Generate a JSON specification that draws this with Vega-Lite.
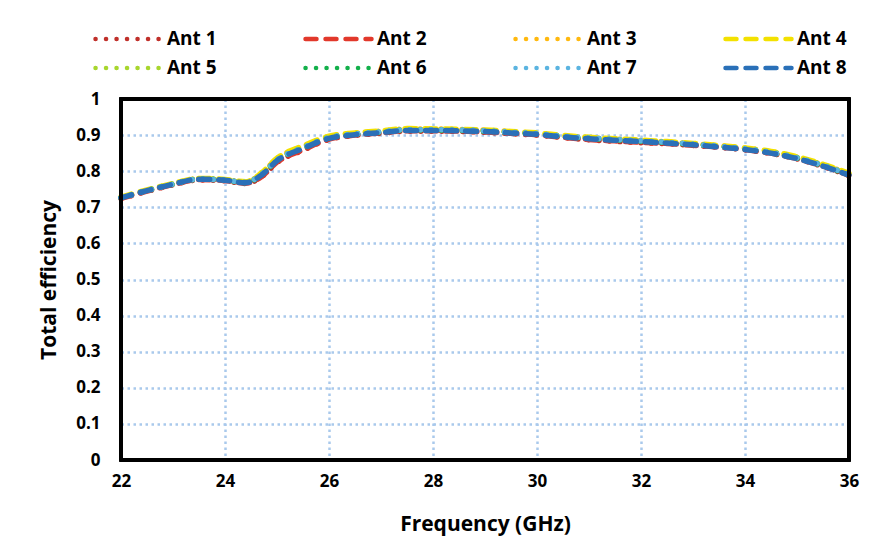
{
  "$schema": "https://vega.github.io/schema/vega-lite/v6.json",
  "autosize": {"type": "none"},
  "padding": {"left": 121, "top": 99, "right": 37, "bottom": 92},
  "width": 728,
  "height": 361,
  "background": "white",
  "config": {
    "font": "Open Sans",
    "view": {"stroke": null},
    "axis": {
      "labelFont": "Open Sans", "labelFontWeight": "bold", "labelFontSize": 17, "labelColor": "#000000",
      "titleFont": "Open Sans", "titleFontWeight": "bold", "titleFontSize": 21, "titleColor": "#000000",
      "domain": false, "ticks": false, "labelFlush": false, "labelOverlap": false,
      "grid": true, "gridColor": "#A9C9EC", "gridDash": [2.5, 3.5], "gridWidth": 2.5, "gridOpacity": 1
    }
  },
  "data": {
    "values": [
      {"f": 22, "Ant 1": 0.724, "Ant 2": 0.725, "Ant 3": 0.727, "Ant 4": 0.728, "Ant 5": 0.727, "Ant 6": 0.726, "Ant 7": 0.726, "Ant 8": 0.726},
      {"f": 22.5, "Ant 1": 0.744, "Ant 2": 0.745, "Ant 3": 0.747, "Ant 4": 0.748, "Ant 5": 0.747, "Ant 6": 0.746, "Ant 7": 0.746, "Ant 8": 0.746},
      {"f": 23, "Ant 1": 0.762, "Ant 2": 0.763, "Ant 3": 0.765, "Ant 4": 0.766, "Ant 5": 0.765, "Ant 6": 0.764, "Ant 7": 0.764, "Ant 8": 0.764},
      {"f": 23.5, "Ant 1": 0.776, "Ant 2": 0.777, "Ant 3": 0.779, "Ant 4": 0.78, "Ant 5": 0.779, "Ant 6": 0.778, "Ant 7": 0.778, "Ant 8": 0.778},
      {"f": 24, "Ant 1": 0.773, "Ant 2": 0.774, "Ant 3": 0.776, "Ant 4": 0.777, "Ant 5": 0.776, "Ant 6": 0.775, "Ant 7": 0.775, "Ant 8": 0.775},
      {"f": 24.4, "Ant 1": 0.766, "Ant 2": 0.767, "Ant 3": 0.77, "Ant 4": 0.771, "Ant 5": 0.769, "Ant 6": 0.768, "Ant 7": 0.769, "Ant 8": 0.768},
      {"f": 24.7, "Ant 1": 0.784, "Ant 2": 0.785, "Ant 3": 0.794, "Ant 4": 0.795, "Ant 5": 0.792, "Ant 6": 0.79, "Ant 7": 0.791, "Ant 8": 0.789},
      {"f": 25, "Ant 1": 0.824, "Ant 2": 0.825, "Ant 3": 0.835, "Ant 4": 0.836, "Ant 5": 0.832, "Ant 6": 0.83, "Ant 7": 0.831, "Ant 8": 0.829},
      {"f": 25.5, "Ant 1": 0.858, "Ant 2": 0.859, "Ant 3": 0.869, "Ant 4": 0.87, "Ant 5": 0.866, "Ant 6": 0.864, "Ant 7": 0.865, "Ant 8": 0.863},
      {"f": 26, "Ant 1": 0.888, "Ant 2": 0.889, "Ant 3": 0.896, "Ant 4": 0.897, "Ant 5": 0.894, "Ant 6": 0.892, "Ant 7": 0.893, "Ant 8": 0.891},
      {"f": 26.5, "Ant 1": 0.899, "Ant 2": 0.9, "Ant 3": 0.905, "Ant 4": 0.906, "Ant 5": 0.903, "Ant 6": 0.902, "Ant 7": 0.903, "Ant 8": 0.901},
      {"f": 27, "Ant 1": 0.905, "Ant 2": 0.906, "Ant 3": 0.911, "Ant 4": 0.912, "Ant 5": 0.909, "Ant 6": 0.908, "Ant 7": 0.909, "Ant 8": 0.907},
      {"f": 27.5, "Ant 1": 0.911, "Ant 2": 0.912, "Ant 3": 0.917, "Ant 4": 0.918, "Ant 5": 0.915, "Ant 6": 0.914, "Ant 7": 0.915, "Ant 8": 0.913},
      {"f": 28, "Ant 1": 0.911, "Ant 2": 0.912, "Ant 3": 0.917, "Ant 4": 0.917, "Ant 5": 0.915, "Ant 6": 0.914, "Ant 7": 0.915, "Ant 8": 0.913},
      {"f": 28.5, "Ant 1": 0.91, "Ant 2": 0.911, "Ant 3": 0.916, "Ant 4": 0.916, "Ant 5": 0.914, "Ant 6": 0.913, "Ant 7": 0.914, "Ant 8": 0.912},
      {"f": 29, "Ant 1": 0.908, "Ant 2": 0.909, "Ant 3": 0.914, "Ant 4": 0.914, "Ant 5": 0.912, "Ant 6": 0.911, "Ant 7": 0.912, "Ant 8": 0.91},
      {"f": 29.5, "Ant 1": 0.904, "Ant 2": 0.905, "Ant 3": 0.91, "Ant 4": 0.91, "Ant 5": 0.908, "Ant 6": 0.907, "Ant 7": 0.908, "Ant 8": 0.906},
      {"f": 30, "Ant 1": 0.9, "Ant 2": 0.901, "Ant 3": 0.905, "Ant 4": 0.906, "Ant 5": 0.904, "Ant 6": 0.903, "Ant 7": 0.904, "Ant 8": 0.902},
      {"f": 30.5, "Ant 1": 0.893, "Ant 2": 0.894, "Ant 3": 0.898, "Ant 4": 0.899, "Ant 5": 0.897, "Ant 6": 0.896, "Ant 7": 0.897, "Ant 8": 0.895},
      {"f": 31, "Ant 1": 0.887, "Ant 2": 0.888, "Ant 3": 0.893, "Ant 4": 0.894, "Ant 5": 0.892, "Ant 6": 0.891, "Ant 7": 0.892, "Ant 8": 0.89},
      {"f": 31.5, "Ant 1": 0.883, "Ant 2": 0.884, "Ant 3": 0.889, "Ant 4": 0.89, "Ant 5": 0.888, "Ant 6": 0.887, "Ant 7": 0.888, "Ant 8": 0.886},
      {"f": 32, "Ant 1": 0.879, "Ant 2": 0.88, "Ant 3": 0.885, "Ant 4": 0.886, "Ant 5": 0.884, "Ant 6": 0.883, "Ant 7": 0.884, "Ant 8": 0.882},
      {"f": 32.5, "Ant 1": 0.876, "Ant 2": 0.877, "Ant 3": 0.881, "Ant 4": 0.882, "Ant 5": 0.88, "Ant 6": 0.879, "Ant 7": 0.88, "Ant 8": 0.878},
      {"f": 33, "Ant 1": 0.871, "Ant 2": 0.872, "Ant 3": 0.876, "Ant 4": 0.877, "Ant 5": 0.875, "Ant 6": 0.874, "Ant 7": 0.875, "Ant 8": 0.873},
      {"f": 33.5, "Ant 1": 0.866, "Ant 2": 0.867, "Ant 3": 0.871, "Ant 4": 0.871, "Ant 5": 0.869, "Ant 6": 0.868, "Ant 7": 0.869, "Ant 8": 0.867},
      {"f": 34, "Ant 1": 0.859, "Ant 2": 0.86, "Ant 3": 0.864, "Ant 4": 0.864, "Ant 5": 0.862, "Ant 6": 0.861, "Ant 7": 0.862, "Ant 8": 0.86},
      {"f": 34.5, "Ant 1": 0.849, "Ant 2": 0.85, "Ant 3": 0.854, "Ant 4": 0.855, "Ant 5": 0.853, "Ant 6": 0.851, "Ant 7": 0.852, "Ant 8": 0.85},
      {"f": 35, "Ant 1": 0.834, "Ant 2": 0.835, "Ant 3": 0.839, "Ant 4": 0.84, "Ant 5": 0.838, "Ant 6": 0.836, "Ant 7": 0.837, "Ant 8": 0.835},
      {"f": 35.5, "Ant 1": 0.813, "Ant 2": 0.814, "Ant 3": 0.818, "Ant 4": 0.819, "Ant 5": 0.817, "Ant 6": 0.815, "Ant 7": 0.816, "Ant 8": 0.814},
      {"f": 36, "Ant 1": 0.788, "Ant 2": 0.789, "Ant 3": 0.793, "Ant 4": 0.794, "Ant 5": 0.792, "Ant 6": 0.79, "Ant 7": 0.791, "Ant 8": 0.789}
    ]
  },
  "layer": [
    {
      "transform": [
        {"fold": ["Ant 1", "Ant 2", "Ant 3", "Ant 4", "Ant 5", "Ant 6", "Ant 7", "Ant 8"], "as": ["ant", "eff"]}
      ],
      "mark": {"type": "line", "interpolate": "monotone", "strokeWidth": 5.5, "strokeCap": "round", "clip": false},
      "encoding": {
        "x": {
          "field": "f", "type": "quantitative",
          "scale": {"domain": [22, 36], "nice": false, "zero": false},
          "axis": {"values": [22, 24, 26, 28, 30, 32, 34, 36], "title": "Frequency (GHz)", "labelPadding": 13, "titlePadding": 24}
        },
        "y": {
          "field": "eff", "type": "quantitative",
          "scale": {"domain": [0, 1], "nice": false},
          "axis": {"values": [0, 0.1, 0.2, 0.3, 0.4, 0.5, 0.6, 0.7, 0.8, 0.9, 1], "format": ".1~f", "title": "Total efficiency", "labelPadding": 21, "titlePadding": 16}
        },
        "color": {
          "field": "ant", "type": "nominal",
          "scale": {
            "domain": ["Ant 1", "Ant 2", "Ant 3", "Ant 4", "Ant 5", "Ant 6", "Ant 7", "Ant 8"],
            "range": ["#C0302A", "#E2382B", "#FFB90F", "#F3E100", "#A8D62E", "#13B04B", "#5BB4E0", "#2A70B8"]
          },
          "legend": {
            "orient": "none", "legendX": -28, "legendY": -70, "direction": "horizontal", "columns": 4,
            "title": null, "symbolType": "stroke", "symbolSize": 4356, "symbolStrokeWidth": 4.5,
            "clipHeight": 20,
            "labelFont": "Open Sans", "labelFontWeight": "bold", "labelFontSize": 19, "labelColor": "#000000",
            "labelOffset": 3, "columnPadding": 86, "rowPadding": 9,
            "encode": {"symbols": {"update": {"strokeCap": {"value": "round"}}}}
          }
        },
        "strokeDash": {
          "field": "ant", "type": "nominal",
          "scale": {
            "domain": ["Ant 1", "Ant 2", "Ant 3", "Ant 4", "Ant 5", "Ant 6", "Ant 7", "Ant 8"],
            "range": [[0.1, 10.4], [11, 9], [0.1, 10.4], [11, 9], [0.1, 10.4], [0.1, 10.4], [0.1, 10.4], [11, 9]]
          }
        }
      }
    },
    {
      "mark": {"type": "rect", "filled": false, "stroke": "#000000", "strokeWidth": 2.5},
      "encoding": {
        "x": {"datum": 22, "type": "quantitative",
          "axis": {"values": [22, 24, 26, 28, 30, 32, 34, 36], "title": "Frequency (GHz)", "labelPadding": 13, "titlePadding": 24}},
        "x2": {"datum": 36},
        "y": {"datum": 0, "type": "quantitative",
          "axis": {"values": [0, 0.1, 0.2, 0.3, 0.4, 0.5, 0.6, 0.7, 0.8, 0.9, 1], "format": ".1~f", "title": "Total efficiency", "labelPadding": 21, "titlePadding": 16}},
        "y2": {"datum": 1}
      }
    }
  ]
}
